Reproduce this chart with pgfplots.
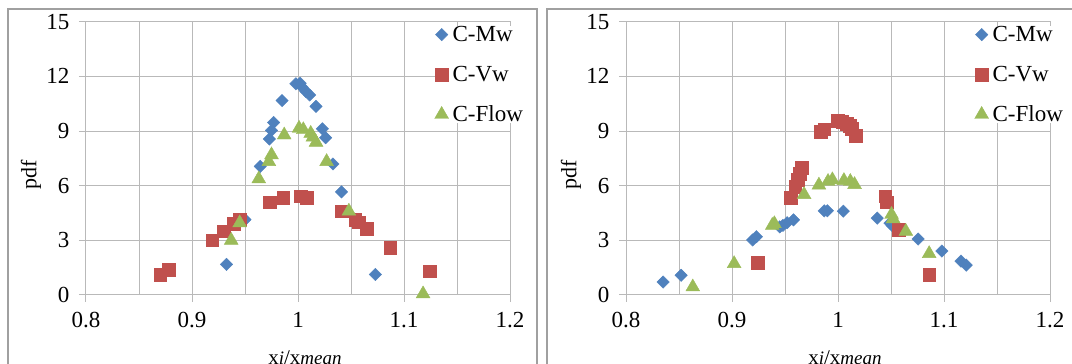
\documentclass[border=0pt]{standalone}
\usepackage{fontspec}
\setmainfont{Liberation Serif}
\usepackage{pgfplots}
\pgfplotsset{compat=1.18}
\definecolor{mw}{HTML}{4F81BD}
\definecolor{vw}{HTML}{C0504D}
\definecolor{fl}{HTML}{9BBB59}
\definecolor{gridc}{RGB}{185,185,185}
\definecolor{framec}{RGB}{160,160,160}
\newcommand{\bigf}{\fontsize{23}{27}\selectfont}
\newcommand{\labf}{\fontsize{22}{26}\selectfont}
\pgfplotsset{
  panel/.style={
    scale only axis, width=424pt, height=273.3pt,
    xmin=0.8, xmax=1.2, ymin=0, ymax=15,
    xtick={0.8,0.9,1,1.1,1.2},
    minor xtick={0.85,0.95,1.05,1.15},
    ytick={0,3,6,9,12,15},
    grid=both,
    major grid style={gridc, line width=1pt},
    minor grid style={gridc, line width=1pt},
    axis line style={gridc, line width=1pt},
    tick style={gridc, line width=1pt},
    tick align=outside, major tick length=7pt, minor tick length=0pt,
    xtick pos=left, ytick pos=left,
    tick label style={font=\bigf},
    /pgf/number format/assume math mode=true,
    yticklabel style={xshift=-6pt},
    xticklabel style={yshift=-7pt},
    ylabel={pdf},
    ylabel style={at={(axis description cs:-0.13,0.439)}, anchor=center, font=\labf},
    xlabel={\fontsize{21}{25}\selectfont x\textit{\fontsize{19}{23}\selectfont i}/x\textit{\fontsize{19}{23}\selectfont mean}},
    xlabel style={at={(axis description cs:0.5165,-0.2525)}, anchor=base},
    legend style={at={(axis description cs:0.822,0.984)}, anchor=north west,
      draw=none, fill=white, inner sep=0pt, font=\bigf, row sep=23pt, column sep=2pt,
      nodes={inner ysep=0pt}},
    legend cell align=left,
    mwstyle/.style={only marks, mark=diamond*, mark size=6.2pt, color=mw, mark options={xscale=1.333}},
    vwstyle/.style={only marks, mark=square*, mark size=6.4pt, color=vw},
    flstyle/.style={only marks, mark=triangle*, mark size=8pt, color=fl},
  }
}
\begin{document}
\begin{tikzpicture}
\path[use as bounding box] (0pt,0pt) rectangle (1072pt,364pt);
\draw[framec, line width=1.2pt] (8pt,-20pt) rectangle (537pt,355pt);
\draw[framec, line width=1.2pt] (547pt,-20pt) rectangle (1100pt,355pt);
\begin{axis}[panel, at={(86pt,69pt)}, anchor=south west]
\addplot[mwstyle] coordinates {(0.9325,1.68) (0.950,4.14) (0.9644,7.06) (0.973,8.56) (0.975,9.03) (0.977,9.47) (0.985,10.67) (0.998,11.59) (1.002,11.62) (1.004,11.4) (1.0075,11.17) (1.011,10.98) (1.017,10.35) (1.023,9.12) (1.026,8.63) (1.033,7.19) (1.041,5.66) (1.073,1.13)};
\addlegendentry{C-Mw}
\addplot[vwstyle] coordinates {(0.870,1.13) (0.878,1.41) (0.919,3.01) (0.930,3.50) (0.9396,3.92) (0.945,4.14) (0.973,5.09) (0.986,5.33) (1.0024,5.42) (1.008,5.33) (1.041,4.6) (1.054,4.14) (1.057,4.0) (1.0646,3.63) (1.087,2.59) (1.124,1.31)};
\addlegendentry{C-Vw}
\addplot[flstyle] coordinates {(0.937,3.0) (0.945,3.96) (0.963,6.37) (0.9725,7.32) (0.975,7.69) (0.987,8.78) (1.001,9.15) (1.005,9.07) (1.012,8.87) (1.014,8.66) (1.017,8.38) (1.027,7.32) (1.048,4.6) (1.118,0.06)};
\addlegendentry{C-Flow}
\end{axis}
\begin{axis}[panel, at={(626pt,69pt)}, anchor=south west]
\addplot[mwstyle] coordinates {(0.835,0.71) (0.852,1.08) (0.9195,3.02) (0.923,3.2) (0.945,3.74) (0.948,3.82) (0.952,3.97) (0.958,4.12) (0.987,4.62) (0.990,4.62) (1.005,4.6) (1.037,4.22) (1.049,3.94) (1.051,3.81) (1.0756,3.07) (1.098,2.41) (1.116,1.86) (1.121,1.64)};
\addlegendentry{C-Mw}
\addplot[vwstyle] coordinates {(0.924,1.77) (0.9556,5.36) (0.9597,5.93) (0.962,6.33) (0.9641,6.66) (0.966,6.97) (0.984,8.95) (0.987,9.1) (1.0,9.55) (1.004,9.52) (1.008,9.42) (1.011,9.28) (1.013,9.13) (1.017,8.73) (1.0445,5.42) (1.046,5.09) (1.057,3.59) (1.086,1.13)};
\addlegendentry{C-Vw}
\addplot[flstyle] coordinates {(0.863,0.44) (0.902,1.72) (0.938,3.82) (0.940,3.91) (0.968,5.51) (0.982,6.03) (0.9906,6.23) (0.9947,6.32) (1.0056,6.28) (1.0116,6.23) (1.0156,6.06) (1.0505,4.42) (1.052,4.18) (1.064,3.49) (1.086,2.27)};
\addlegendentry{C-Flow}
\end{axis}
\end{tikzpicture}
\end{document}
